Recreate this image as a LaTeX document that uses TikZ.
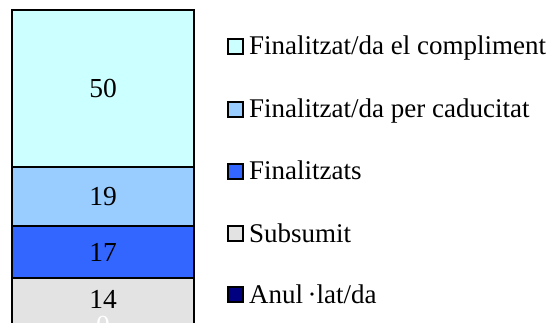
\documentclass[tikz,border=0pt]{standalone}
\usepackage{fontspec}
\setmainfont{Liberation Serif}
\definecolor{complcol}{HTML}{CCFFFF}
\definecolor{caduccol}{HTML}{99CCFF}
\definecolor{finalcol}{HTML}{3366FF}
\definecolor{subsucol}{HTML}{E3E3E3}
\definecolor{anulcol}{HTML}{000080}
\begin{document}
\begin{tikzpicture}[x=1pt,y=-1pt,
    seg/.style={draw=black,line width=2pt},
    num/.style={font=\fontsize{27.5}{32}\selectfont,inner sep=0pt},
    legbox/.style={draw=black,line width=2pt,minimum size=15pt,inner sep=0pt},
    legtext/.style={font=\fontsize{27}{32}\selectfont,anchor=base west,inner sep=0pt}]
      \useasboundingbox (0,0) rectangle (554,323);

      % stacked bar
      \draw[seg,fill=complcol] (12,10) rectangle (194,167);
      \draw[seg,fill=caduccol] (12,167) rectangle (194,226);
      \draw[seg,fill=finalcol] (12,226) rectangle (194,278);
      \draw[seg,fill=subsucol] (12,278) rectangle (194,324);

      \node[num] (n50) at (103,88.5) {50};
      \node[num] (n19) at (103,196.5) {19};
      \node[num] (n17) at (103,252) {17};
      \node[num] (n14) at (103,299) {14};
      \node[num,white] (n0) at (103,325) {0};

      % legend
      \node[legbox,fill=complcol] (k1) at (235,46.5) {};
      \node[legtext] (t1) at (249,55) {Finalitzat/da el compliment};
      \node[legbox,fill=caduccol] (k2) at (235,109.5) {};
      \node[legtext] (t2) at (249,118) {Finalitzat/da per caducitat};
      \node[legbox,fill=finalcol] (k3) at (235,171.5) {};
      \node[legtext] (t3) at (249,180) {Finalitzats};
      \node[legbox,fill=subsucol] (k4) at (235,233.5) {};
      \node[legtext] (t4) at (249,242) {Subsumit};
      \node[legbox,fill=anulcol] (k5) at (235,294.5) {};
      \node[legtext] (t5) at (249,303) {Anul\,·lat/da};
\end{tikzpicture}
\end{document}
